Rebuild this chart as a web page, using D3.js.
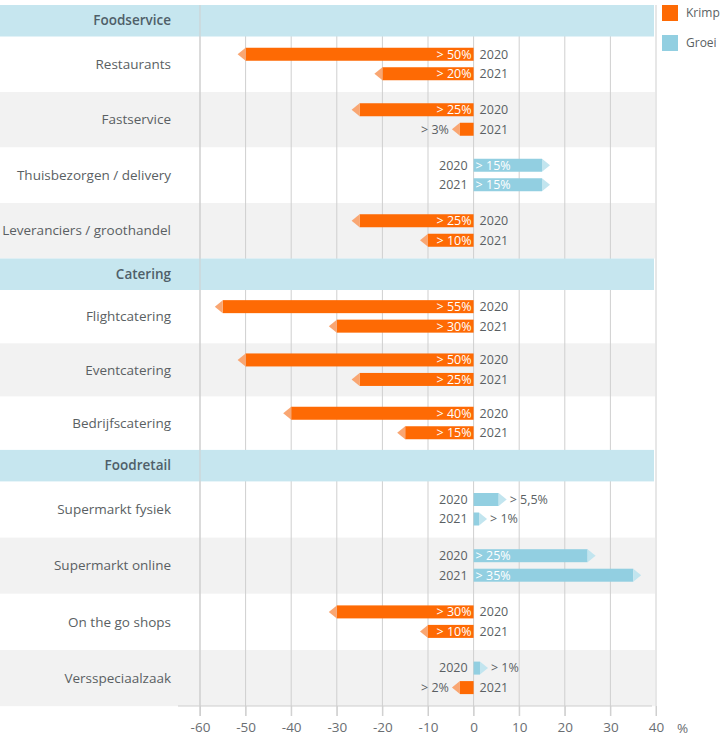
<!DOCTYPE html>
<html>
<head>
<meta charset="utf-8">
<script src="https://cdn.jsdelivr.net/npm/d3@7"></script>
<style>
  body { margin: 0; background: #fff; }
  text { font-family: "Segoe UI", "Open Sans", sans-serif; }
</style>
</head>
<body>
<div id="plot"></div>
<script>
// chart data
var sections = ["Foodservice", "Catering", "Foodretail"];
var categories = ["Restaurants", "Fastservice", "Thuisbezorgen / delivery", "Leveranciers / groothandel",
                  "Flightcatering", "Eventcatering", "Bedrijfscatering",
                  "Supermarkt fysiek", "Supermarkt online", "On the go shops", "Versspeciaalzaak"];
var sectionOf = [0, 0, 0, 0, 1, 1, 1, 2, 2, 2, 2];
var values2020 = [-50, -25, 15, -25, -55, -50, -40, 5.5, 25, -30, 1.4];
var values2021 = [-20, -3, 15, -10, -30, -25, -15, 1.2, 35, -10, -3];
var labels2020 = ["> 50%", "> 25%", "> 15%", "> 25%", "> 55%", "> 50%", "> 40%", "> 5,5%", "> 25%", "> 30%", "> 1%"];
var labels2021 = ["> 20%", "> 3%", "> 15%", "> 10%", "> 30%", "> 25%", "> 15%", "> 1%", "> 35%", "> 10%", "> 2%"];
var years = ["2020", "2021"];
var ticks = [-60, -50, -40, -30, -20, -10, 0, 10, 20, 30, 40];
var legendNames = ["Krimp", "Groei"];

(function() {
var width = 721, height = 739;
var svg = d3.select("#plot").append("svg")
    .attr("width", width)
    .attr("height", height);

var x = d3.scaleLinear().domain([-60, 40]).range([200, 656]);

var colors = { neg: "#fe6a04", negTip: "#f9a672", pos: "#92cfe1", posTip: "#c2e5ef" };
var textCol = "#5a5f63";

// build row layout (section headers + category rows)
var headerH = 31.5, sectionRowH = [55.5, 53.3, 56.2], topY = 5;
var rows = [];
var yy = topY;
sections.forEach(function(s, si) {
    rows.push({type: "header", name: s, y: yy, h: headerH});
    yy += headerH;
    categories.forEach(function(c, i) {
        if (sectionOf[i] !== si) return;
        rows.push({type: "row", name: c, idx: i, y: yy, h: sectionRowH[si]});
        yy += sectionRowH[si];
    });
});
var bottom = Math.round(yy);

// row backgrounds (alternating per section)
var count = 0, lastSec = -1;
rows.forEach(function(r) {
    if (r.type === "row") {
        if (sectionOf[r.idx] !== lastSec) { count = 0; lastSec = sectionOf[r.idx]; }
        r.alt = count % 2 === 1;
        count++;
    }
});

svg.append("g").selectAll("rect")
    .data(rows.filter(function(r) { return r.type === "row"; }))
    .enter().append("rect")
    .attr("x", 0).attr("y", function(d) { return d.y; })
    .attr("width", 655).attr("height", function(d) { return d.h; })
    .attr("fill", function(d) { return d.alt ? "#f2f2f2" : "#fff"; });

// gridlines
svg.append("g").selectAll("line")
    .data(ticks)
    .enter().append("line")
    .attr("x1", function(d) { return x(d); }).attr("x2", function(d) { return x(d); })
    .attr("y1", topY).attr("y2", bottom + 10)
    .attr("stroke", "#cfcfcf").attr("stroke-width", 1);

// section headers
var hdr = svg.append("g").selectAll("g")
    .data(rows.filter(function(r) { return r.type === "header"; }))
    .enter().append("g");
hdr.append("rect")
    .attr("x", 0).attr("y", function(d) { return d.y; })
    .attr("width", 654).attr("height", function(d) { return d.h; })
    .attr("fill", "#c6e6ef");
hdr.append("text")
    .attr("x", 171).attr("y", function(d) { return d.y + d.h / 2; })
    .attr("dy", "0.35em").attr("text-anchor", "end")
    .attr("font-size", 13.5).attr("font-weight", 600)
    .attr("fill", "#4f5f69")
    .text(function(d) { return d.name; });

// separator line at -60
svg.append("line")
    .attr("x1", x(-60)).attr("x2", x(-60))
    .attr("y1", topY).attr("y2", bottom + 10)
    .attr("stroke", "#cfcfcf");

// category labels
svg.append("g").selectAll("text")
    .data(rows.filter(function(r) { return r.type === "row"; }))
    .enter().append("text")
    .attr("x", 171).attr("y", function(d) { return d.y + d.h / 2; })
    .attr("dy", "0.35em").attr("text-anchor", "end")
    .attr("font-size", 13.5).attr("fill", textCol)
    .text(function(d) { return d.name; });

// bars
var barH = 13, tipW = 8;
var bars = [];
rows.forEach(function(r) {
    if (r.type !== "row") return;
    var c = r.y + r.h / 2;
    bars.push({v: values2020[r.idx], label: labels2020[r.idx], year: years[0], y: c - 16.5});
    bars.push({v: values2021[r.idx], label: labels2021[r.idx], year: years[1], y: c + 3});
});

var bg = svg.append("g").selectAll("g").data(bars).enter().append("g");

bg.append("rect")
    .attr("x", function(d) { return Math.min(x(0), x(d.v)); })
    .attr("y", function(d) { return d.y; })
    .attr("width", function(d) { return Math.abs(x(d.v) - x(0)); })
    .attr("height", barH)
    .attr("fill", function(d) { return d.v < 0 ? colors.neg : colors.pos; });

bg.append("path")
    .attr("d", function(d) {
        var e = x(d.v), s = d.v < 0 ? -1 : 1;
        return "M" + e + "," + d.y + "L" + (e + s * tipW) + "," + (d.y + barH / 2) +
               "L" + e + "," + (d.y + barH) + "Z";
    })
    .attr("fill", function(d) { return d.v < 0 ? colors.negTip : colors.posTip; });

// value labels
bg.append("text")
    .attr("x", function(d) {
        var inside = Math.abs(d.v) >= 10;
        if (d.v < 0) return inside ? x(0) - 2 : x(d.v) - tipW - 3;
        return inside ? x(0) + 2 : x(d.v) + tipW + 3;
    })
    .attr("y", function(d) { return d.y + barH / 2; })
    .attr("dy", "0.35em")
    .attr("text-anchor", function(d) { return d.v < 0 ? "end" : "start"; })
    .attr("font-size", 12.5)
    .attr("fill", function(d) { return Math.abs(d.v) >= 10 ? "#fff" : textCol; })
    .text(function(d) { return d.label; });

// year labels
bg.append("text")
    .attr("x", function(d) { return d.v < 0 ? x(0) + 6 : x(0) - 6; })
    .attr("y", function(d) { return d.y + barH / 2; })
    .attr("dy", "0.35em")
    .attr("text-anchor", function(d) { return d.v < 0 ? "start" : "end"; })
    .attr("font-size", 12.5).attr("fill", textCol)
    .text(function(d) { return d.year; });

// x axis
var axis = svg.append("g")
    .attr("transform", "translate(0," + bottom + ")")
    .call(d3.axisBottom(x).tickValues(ticks).tickSize(10).tickPadding(6)
        .tickFormat(function(d) { return String(d); }));
axis.select(".domain").remove();
axis.selectAll(".tick line").attr("stroke", "#cfcfcf");
axis.selectAll(".tick text").attr("font-size", 13.5).attr("fill", "#6a6e72")
    .attr("font-family", "'Segoe UI', 'Open Sans', sans-serif");
svg.append("line")
    .attr("x1", 178).attr("x2", 652)
    .attr("y1", bottom).attr("y2", bottom)
    .attr("stroke", "#cfcfcf");
svg.append("text")
    .attr("x", 677).attr("y", bottom + 27)
    .attr("font-size", 13.5).attr("fill", "#6a6e72")
    .text("%");

// legend
var lg = svg.append("g").selectAll("g")
    .data(legendNames).enter().append("g")
    .attr("transform", function(d, i) { return "translate(662," + (5 + i * 30) + ")"; });
lg.append("rect").attr("width", 16).attr("height", 16)
    .attr("fill", function(d, i) { return i === 0 ? colors.neg : colors.pos; });
lg.append("text").attr("x", 24).attr("y", 8).attr("dy", "0.35em")
    .attr("font-size", 12).attr("fill", textCol)
    .text(function(d) { return d; });
})();
</script>
</body>
</html>
